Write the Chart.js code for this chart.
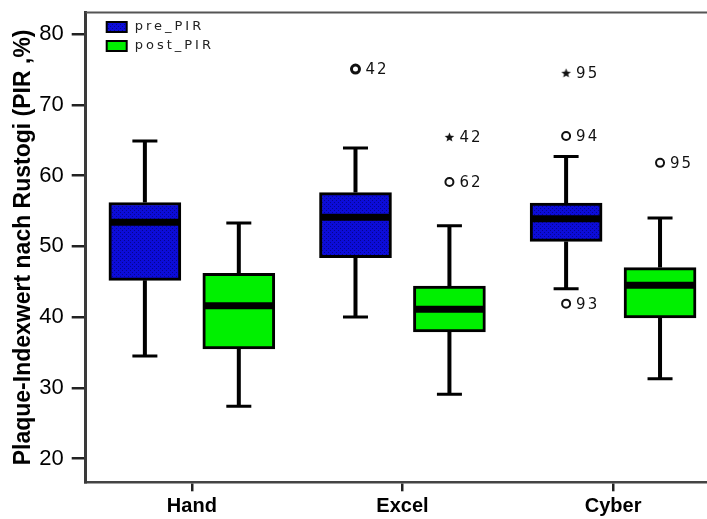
<!DOCTYPE html>
<html>
<head>
<meta charset="utf-8">
<script src="https://cdn.jsdelivr.net/npm/chart.js@4.4.1/dist/chart.umd.min.js"></script>
<style>
html, body { margin: 0; padding: 0; background: #fff; }
#wrap { width: 707px; height: 519px; }
</style>
</head>
<body>
<div id="wrap"><canvas id="boxChart" width="707" height="519"></canvas></div>
<script>
const categories = ['Hand', 'Excel', 'Cyber'];
const yTicks = [20, 30, 40, 50, 60, 70, 80];

// pre_PIR five-number summary per group
const preLow = [34.5, 40.0, 44.0];
const preQ1 = [45.2, 48.4, 50.7];
const preMedian = [53.4, 54.1, 53.9];
const preQ3 = [56.2, 57.6, 56.1];
const preHigh = [64.9, 63.9, 62.7];

// post_PIR five-number summary per group
const postLow = [27.4, 29.1, 31.3];
const postQ1 = [35.5, 37.9, 39.9];
const postMedian = [41.6, 41.1, 44.5];
const postQ3 = [46.2, 44.4, 47.0];
const postHigh = [53.3, 52.9, 54.0];

// outliers (o) and extremes (*), group index + value + case number
const preCircleGroup = [1, 2, 2];
const preCircleValue = [75.05, 65.6, 41.9];
const preCircleLabel = ['42', '94', '93'];
const preStarGroup = [2];
const preStarValue = [74.45];
const preStarLabel = ['95'];
const postCircleGroup = [1, 2];
const postCircleValue = [59.1, 61.8];
const postCircleLabel = ['62', '95'];
const postStarGroup = [1];
const postStarValue = [65.4];
const postStarLabel = ['42'];

const PRE_SHIFT = -0.223, POST_SHIFT = 0.223; // box offset inside a group
const BOX_W = 72;
const FONT = "'Liberation Sans', Arial, sans-serif";

// dotted blue fill like the SPSS pattern
function makeBluePattern() {
    const c = document.createElement('canvas');
    c.width = 4; c.height = 4;
    const g = c.getContext('2d');
    g.fillStyle = '#0c0cd8';
    g.fillRect(0, 0, 4, 4);
    g.fillStyle = '#05058c';
    g.fillRect(0, 0, 1, 1);
    g.fillRect(2, 2, 1, 1);
    return g.createPattern(c, 'repeat');
}
const bluePattern = makeBluePattern();
const greenFill = '#00f000';

// small filled star used for extreme values
function makeStar() {
    const c = document.createElement('canvas');
    c.width = 11; c.height = 11;
    const g = c.getContext('2d');
    g.fillStyle = '#111';
    g.beginPath();
    for (let k = 0; k < 10; k++) {
        const r = k % 2 === 0 ? 5 : 2.2;
        const a = -Math.PI / 2 + k * Math.PI / 5;
        g.lineTo(5.5 + r * Math.cos(a), 5.5 + r * Math.sin(a));
    }
    g.closePath();
    g.fill();
    return c;
}
const starImg = makeStar();

const groups = [
    { shift: PRE_SHIFT, low: preLow, q1: preQ1, med: preMedian, q3: preQ3, high: preHigh },
    { shift: POST_SHIFT, low: postLow, q1: postQ1, med: postMedian, q3: postQ3, high: postHigh }
];

const toBoxes = (q1, q3, shift) => q1.map((v, i) => ({ x: i + shift, y: [v, q3[i]] }));
const toPoints = (grp, vals, shift) => grp.map((g, i) => ({ x: g + shift, y: vals[i] }));

const outlierLabels = [
    { grp: preCircleGroup, vals: preCircleValue, labels: preCircleLabel, shift: PRE_SHIFT },
    { grp: preStarGroup, vals: preStarValue, labels: preStarLabel, shift: PRE_SHIFT },
    { grp: postCircleGroup, vals: postCircleValue, labels: postCircleLabel, shift: POST_SHIFT },
    { grp: postStarGroup, vals: postStarValue, labels: postStarLabel, shift: POST_SHIFT }
];

const boxParts = {
    id: 'boxParts',
    beforeDatasetsDraw(chart) {
        // whiskers and caps sit behind the boxes
        const { ctx, scales: { x, y } } = chart;
        ctx.save();
        ctx.strokeStyle = '#000';
        groups.forEach(g => {
            g.low.forEach((lo, i) => {
                const cx = x.getPixelForValue(i + g.shift);
                ctx.lineWidth = 4;
                ctx.beginPath();
                ctx.moveTo(cx, y.getPixelForValue(lo));
                ctx.lineTo(cx, y.getPixelForValue(g.q1[i]));
                ctx.moveTo(cx, y.getPixelForValue(g.q3[i]));
                ctx.lineTo(cx, y.getPixelForValue(g.high[i]));
                ctx.stroke();
                ctx.lineWidth = 3;
                ctx.beginPath();
                [lo, g.high[i]].forEach(v => {
                    const py = y.getPixelForValue(v);
                    ctx.moveTo(cx - 12.5, py);
                    ctx.lineTo(cx + 12.5, py);
                });
                ctx.stroke();
            });
        });
        ctx.restore();
    },
    afterDatasetsDraw(chart) {
        const { ctx, chartArea, scales: { x, y } } = chart;
        ctx.save();
        // medians
        ctx.strokeStyle = '#000';
        ctx.lineWidth = 7;
        groups.forEach(g => {
            g.med.forEach((m, i) => {
                const cx = x.getPixelForValue(i + g.shift);
                const py = y.getPixelForValue(m);
                ctx.beginPath();
                ctx.moveTo(cx - BOX_W / 2 + 1, py);
                ctx.lineTo(cx + BOX_W / 2 - 1, py);
                ctx.stroke();
            });
        });
        // case numbers next to outliers
        ctx.fillStyle = '#111';
        ctx.font = "15px 'DejaVu Sans', sans-serif";
        ctx.letterSpacing = '2px';
        ctx.textBaseline = 'middle';
        ctx.textAlign = 'left';
        outlierLabels.forEach(o => {
            o.grp.forEach((gi, i) => {
                const px = x.getPixelForValue(gi + o.shift);
                const py = y.getPixelForValue(o.vals[i]);
                ctx.fillText(o.labels[i], px + 10, py + 1);
            });
        });
        // top frame line
        ctx.strokeStyle = '#555';
        ctx.lineWidth = 2;
        ctx.beginPath();
        ctx.moveTo(chartArea.left, chartArea.top);
        ctx.lineTo(chart.width, chartArea.top);
        ctx.stroke();
        // legend inside the plot
        const items = [['pre_PIR', bluePattern], ['post_PIR', greenFill]];
        ctx.font = "13px 'DejaVu Sans', sans-serif";
        ctx.letterSpacing = '3px';
        items.forEach(([name, fill], k) => {
            const lx = chartArea.left + 21, ly = chartArea.top + 9.5 + k * 19;
            ctx.fillStyle = fill;
            ctx.fillRect(lx, ly, 20, 10);
            ctx.strokeStyle = '#000';
            ctx.lineWidth = 2;
            ctx.strokeRect(lx, ly, 20, 10);
            ctx.fillStyle = '#222';
            ctx.fillText(name, lx + 28, ly + 5);
        });
        ctx.restore();
    }
};

const ctx = document.getElementById('boxChart').getContext('2d');
new Chart(ctx, {
    type: 'bar',
    data: {
        datasets: [
            {
                label: 'pre_PIR',
                data: toBoxes(preQ1, preQ3, PRE_SHIFT),
                backgroundColor: bluePattern,
                borderColor: '#000',
                borderWidth: 3,
                borderSkipped: false,
                barThickness: BOX_W,
                grouped: false
            },
            {
                label: 'post_PIR',
                data: toBoxes(postQ1, postQ3, POST_SHIFT),
                backgroundColor: greenFill,
                borderColor: '#000',
                borderWidth: 3,
                borderSkipped: false,
                barThickness: BOX_W,
                grouped: false
            },
            {
                type: 'scatter',
                data: toPoints(preCircleGroup, preCircleValue, PRE_SHIFT),
                pointStyle: 'circle',
                pointRadius: 4,
                pointBorderWidth: [3, 2, 2],
                pointBorderColor: '#111',
                pointBackgroundColor: 'rgba(0,0,0,0)'
            },
            {
                type: 'scatter',
                data: toPoints(preStarGroup, preStarValue, PRE_SHIFT),
                pointStyle: starImg
            },
            {
                type: 'scatter',
                data: toPoints(postCircleGroup, postCircleValue, POST_SHIFT),
                pointStyle: 'circle',
                pointRadius: 4,
                pointBorderWidth: 2,
                pointBorderColor: '#111',
                pointBackgroundColor: 'rgba(0,0,0,0)'
            },
            {
                type: 'scatter',
                data: toPoints(postStarGroup, postStarValue, POST_SHIFT),
                pointStyle: starImg
            }
        ]
    },
    options: {
        responsive: false,
        animation: false,
        layout: { autoPadding: false, padding: { top: 12.5, right: 0, bottom: 0, left: 0 } },
        scales: {
            x: {
                type: 'linear',
                offset: false,
                min: -0.504,
                max: 2.446,
                afterBuildTicks: axis => { axis.ticks = categories.map((c, i) => ({ value: i })); },
                afterFit: axis => {
                    axis.height = 36.7;
                    axis.paddingLeft = 0;
                    axis.paddingRight = 0;
                },
                ticks: {
                    callback: v => categories[v],
                    font: { family: FONT, size: 20, weight: 'bold' },
                    color: '#000',
                    padding: 3,
                    maxRotation: 0
                },
                grid: { offset: false, drawOnChartArea: false, tickLength: 9, color: '#222', lineWidth: 2.5 },
                border: { color: '#444', width: 2.5 }
            },
            y: {
                min: 16.65,
                max: 83.05,
                afterBuildTicks: axis => { axis.ticks = yTicks.map(v => ({ value: v })); },
                afterFit: axis => {
                    axis.width = 85.7;
                    axis.paddingTop = 0;
                    axis.paddingBottom = 0;
                },
                ticks: {
                    font: { family: FONT, size: 22 },
                    color: '#000',
                    padding: 8
                },
                grid: { drawOnChartArea: false, tickLength: 14, color: '#222', lineWidth: 2.5 },
                border: { color: '#3a3a3a', width: 3 },
                title: {
                    display: true,
                    text: 'Plaque-Indexwert nach Rustogi (PIR ,%)',
                    font: { family: FONT, size: 23, weight: 'bold' },
                    color: '#000',
                    padding: { top: 10, bottom: 0 }
                }
            }
        },
        plugins: {
            legend: { display: false },
            tooltip: { enabled: false }
        }
    },
    plugins: [boxParts]
});
</script>
</body>
</html>
